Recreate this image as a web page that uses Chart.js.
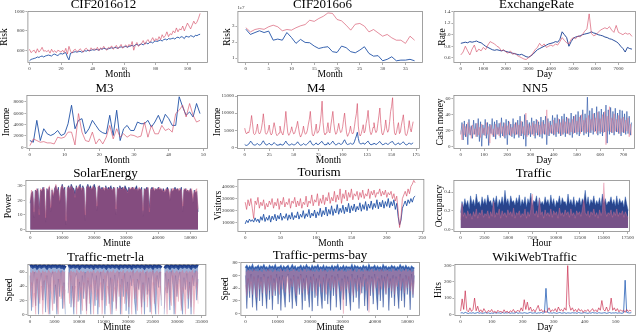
<!DOCTYPE html>
<html><head><meta charset="utf-8">
<script src="https://cdn.jsdelivr.net/npm/chart.js@4.4.0/dist/chart.umd.min.js"></script>
<style>
html,body{margin:0;padding:0;background:#fff;width:640px;height:332px;overflow:hidden;position:relative}
canvas{position:absolute}
</style></head><body>
<script>
// ---------------- DATA ----------------
// CIF2016o12 (Month 0..108)
const cif12Blue = [490,505,510,515,520,530,525,535,540,530,
540,545,550,545,540,555,560,550,545,560,
565,560,570,575,530,500,570,575,580,585,
580,585,590,580,585,595,590,600,595,600,
605,600,610,605,600,615,610,620,615,610,
615,620,625,620,630,625,620,630,635,630,
635,640,630,640,645,650,640,655,660,650,
660,665,655,670,675,665,680,685,675,690,
695,690,700,705,695,710,715,705,720,715,
720,725,715,730,735,725,740,735,720,745,
740,735,750,745,735,755,750,760,765];
const cif12Red = [610,575,590,600,570,615,580,600,630,590,
595,585,600,570,610,580,595,575,600,590,
580,600,575,620,560,640,590,570,600,610,
585,595,615,600,580,610,620,600,590,625,
605,615,600,630,595,625,610,640,615,600,
630,620,645,610,625,650,615,635,660,620,
640,655,630,660,640,690,600,650,680,640,
655,670,700,660,690,710,680,700,730,695,
720,700,740,710,760,730,750,790,740,770,
760,800,780,830,790,820,810,850,800,840,
880,850,820,860,900,870,890,930,980];
const cif12XTicks = [0,20,40,60,80,100];
const cif12YTicks = [600,800,1000];

// CIF2016o6 (Month 0..37), values in units of 1e7
const cif6RedE7 = [2.9,2.64,2.79,2.85,2.8,2.96,3.06,2.96,2.71,2.79,
2.75,2.9,3.02,3.1,3.37,3.3,3.48,3.62,3.83,3.8,
3.42,3.33,3.06,2.75,3.12,3.17,3.0,2.64,2.79,2.58,
2.37,2.48,2.27,2.12,2.12,1.92,2.37,2.12];
const cif6BlueE7 = [2.81,2.48,2.6,2.71,2.6,2.69,2.12,2.19,2.12,2.6,
2.29,1.92,2.17,1.98,1.96,1.75,1.6,1.67,1.71,1.4,
1.35,1.75,1.65,1.4,1.33,1.5,1.71,1.29,1.12,1.15,
0.83,0.92,1.08,0.83,0.87,0.87,0.92,0.83];
const cif6XTicks = [0,5,10,15,20,25,30,35];
const cif6YTicks = [1,2,3];

// ExchangeRate (Day 0..7600, every 100 days)
const exBlue = [0.85,0.86,0.87,0.86,0.88,0.87,0.88,0.89,0.87,0.86,
0.83,0.80,0.78,0.76,0.74,0.73,0.74,0.73,0.72,0.73,
0.71,0.70,0.69,0.68,0.67,0.66,0.65,0.66,0.64,0.62,
0.61,0.63,0.66,0.70,0.74,0.76,0.78,0.80,0.82,0.84,
0.85,0.86,0.88,0.87,0.92,1.05,1.00,0.95,0.80,0.88,
0.94,0.96,0.97,0.98,1.00,1.01,1.02,1.03,1.05,1.03,
1.02,1.00,0.99,0.98,0.96,0.95,0.93,0.92,0.90,0.88,
0.85,0.80,0.76,0.70,0.78,0.76,0.75];
const exRed = [0.65,0.70,0.80,0.72,0.65,0.75,0.82,0.70,0.75,0.72,
0.78,0.74,0.82,0.88,0.86,0.84,0.80,0.78,0.72,0.74,
0.70,0.68,0.72,0.66,0.68,0.64,0.62,0.60,0.58,0.57,
0.60,0.63,0.68,0.74,0.78,0.85,0.80,0.84,0.78,0.80,
0.82,0.80,0.84,0.82,0.88,0.95,0.90,0.86,0.84,0.92,
0.95,0.93,0.98,0.96,1.00,1.06,1.10,1.36,1.02,0.98,
1.00,1.04,1.08,1.10,1.12,1.10,1.14,1.08,1.04,1.16,
1.04,1.02,1.00,1.03,1.01,1.02,0.97];
const exXTicks = [0,1000,2000,3000,4000,5000,6000,7000];
const exYTicks = [0.6,0.8,1.0,1.2,1.4];

// M3 (Month 0..49)
const m3Blue = [1185,890,4740,1185,3260,2370,2070,2370,2960,2070,
2370,4150,7400,3260,4740,5040,2370,3260,4740,3850,
2960,2550,2370,5630,2070,6520,1185,3260,3850,2960,
2960,4440,4150,4150,4740,3560,4440,5630,4150,5800,
5040,3850,3850,8890,7110,5630,6220,5330,7700,5930];
const m3Red = [300,1480,1185,890,1000,770,770,590,1780,1600,
1780,2670,2670,415,5930,2670,1185,1000,2670,590,
1480,590,1780,3850,1480,3260,1780,2370,1780,2190,
2070,1780,1960,4440,1780,3850,2370,2370,3850,2960,
3260,2670,5930,6520,7400,5330,7700,5630,4440,4740];
const m3XTicks = [0,10,20,30,40,50];
const m3YTicks = [0,2000,4000,6000,8000];

// M4 (Month 0..172)
const m4Red = [5600,4300,3900,4500,4200,5200,7000,9300,6800,4100,3700,4000,
5200,6800,4500,3900,4300,5400,7200,9800,7000,4300,3800,4200,
5000,6500,4400,3600,4000,5600,7200,5800,4000,3400,3700,4200,
6200,4800,4100,3600,5000,7400,10500,7000,4200,3500,4000,4800,
6000,4600,3900,4100,5200,6200,7600,5600,3800,3000,3600,4500,
6200,4500,3800,4100,5000,6800,8200,10500,6500,3800,3300,3900,
5000,6800,4100,4400,5000,7000,9500,13500,7200,4400,3600,4200,
5500,7200,4600,4200,6500,8500,10500,7000,4800,3800,4200,5500,
7000,5200,4300,4600,6000,8200,10000,6800,4200,3200,3800,4600,
6200,4600,3900,4200,6000,8200,9800,12800,6200,3800,3300,4000,
5200,6600,4200,4800,7000,8500,10800,7000,4600,3700,4300,5800,
7200,5200,4300,4800,7000,9200,11500,7000,4200,3600,4400,5600,
8000,5400,4400,5000,7500,10500,12000,14500,7500,4200,3600,4400,
6000,7200,4000,4500,6500,8000,9500,6400,3800,3400,4000,5500,
7800,5500,4500,6000,7500];
const m4Blue = [800,600,550,700,900,1300,1800,1500,1000,700,650,700,
900,1100,800,650,700,1000,1500,1900,1400,900,700,750,
900,1200,850,700,750,1000,1400,1100,800,650,600,750,
1000,800,700,650,900,1400,1800,1300,900,700,650,800,
1000,850,700,750,900,1200,1600,1200,800,600,650,800,
1100,850,700,750,1000,1300,1700,1900,1300,800,650,750,
950,1300,850,800,950,1300,1600,1700,1200,850,700,800,
1000,1400,900,800,1100,1500,1800,1300,900,700,800,1000,
1300,1000,850,900,1200,1800,2200,1600,1000,800,900,1000,
1200,1000,900,1000,1600,2500,3300,4400,2600,1400,1000,1000,
1100,1300,900,1000,1300,1600,1800,1300,900,750,800,1000,
1200,1000,850,900,1200,1500,1700,1300,900,750,850,1000,
1300,1000,850,950,1200,1500,1600,1700,1200,850,750,900,
1100,1300,850,900,1100,1400,1600,1200,850,700,800,1000,
1300,1000,900,1100,1300];
const m4XTicks = [0,25,50,75,100,125,150,175];
const m4YTicks = [0,5000,10000,15000];

// NN5 (Day 0..735, every 5 days)
const nn5Blue = [15,30,8,32,12,28,2,34,14,26,
10,33,15,29,12,35,6,31,0,27,
14,34,10,30,1,28,16,35,12,31,
9,33,15,29,11,36,13,30,10,34,
2,32,14,28,12,35,10,30,15,33,
11,38,13,31,9,40,0,33,14,30,
12,36,15,32,10,34,14,31,12,37,
10,33,15,38,2,35,13,32,16,39,
14,36,12,40,16,34,13,38,15,41,
12,37,16,35,14,42,11,38,17,40,
15,44,13,39,18,46,14,41,16,62,
12,45,17,48,15,42,19,50,14,44,
16,47,13,43,18,52,4,46,15,49,
17,44,14,48,18,42,16,46,13,45,
17,41,15,44,16,38,14,30];
const nn5Red = [20,8,28,14,25,12,30,16,24,10,
27,15,22,12,29,14,24,11,28,16,
23,13,30,15,25,4,27,14,22,12,
28,15,24,13,30,16,25,12,29,14,
26,15,31,13,24,16,28,14,30,15,
27,13,32,16,25,14,42,12,28,16,
26,15,30,13,28,17,33,14,27,15,
31,16,28,15,46,14,30,17,27,16,
33,15,29,18,35,16,30,14,34,17,
31,16,36,15,30,18,34,16,38,17,
32,18,37,16,40,19,33,17,36,18,
39,17,34,20,41,18,36,16,43,19,
35,18,40,17,44,2,38,19,50,18,
36,17,41,19,34,18,39,16,35,18,
37,17,33,19,36,12,28,14];
const nn5XTicks = [0,100,200,300,400,500,600,700];
const nn5YTicks = [0,20,40,60];

// SolarEnergy (Minute 0..52400, every 400) - daily peak envelope
const solarBlue = [18,25,26,8,27,26,28,14,27,26,
29,27,5,28,26,29,12,27,22,28,
30,26,29,18,28,31,27,29,3,28,
30,27,31,29,28,25,30,27,29,31,
26,30,28,6,29,31,28,30,27,29,
31,28,13,29,30,27,29,28,26,30,
27,29,28,30,26,29,28,10,29,27,
30,28,29,27,30,28,26,29,27,28,
29,27,28,30,26,28,27,29,9,28,
27,29,28,15,27,29,28,26,28,27,
29,27,28,26,28,25,27,29,27,20,
28,26,27,29,27,28,26,27,29,12,
27,28,26,27,25,28,26,18,27,25,26,12];
const solarRed = [20,27,25,12,26,28,27,10,28,27,
28,29,8,27,28,30,15,28,24,27,
31,28,27,20,29,30,28,27,6,29,
29,28,30,28,27,22,29,28,30,29,
28,29,27,10,28,30,29,28,28,30,
29,27,16,30,29,28,27,29,28,29,
28,27,29,28,27,28,29,14,28,28,
29,27,28,29,28,27,25,28,28,29,
28,29,27,28,27,29,28,27,13,27,
28,27,29,12,28,27,29,28,27,28,
28,29,27,28,26,27,28,27,28,24,
27,28,28,27,28,27,28,28,27,16,
28,27,28,26,27,27,28,22,26,27,28,14];
const solarXTicks = [0,10000,20000,30000,40000,50000];
const solarYTicks = [0,10,20,30];

// Tourism (Month 0..240, every 2 months)
const tourRed = [27000,21000,29000,24000,30000,22000,13500,28000,25000,31000,
22000,27000,24000,29000,21000,26000,23000,28000,25000,30000,
22000,27000,24000,30000,21000,28000,25000,31000,23000,27000,
25000,30000,22000,28000,26000,31000,23000,28000,24000,30000,
22000,27000,25000,32000,23000,28000,26000,33000,24000,29000,
27000,34000,24000,30000,26000,33000,25000,31000,28000,35000,
26000,31000,28000,36000,27000,33000,29000,38000,26000,34000,
30000,37000,28000,35000,31000,38000,29000,34000,32000,36000,
29000,35000,31000,37000,30000,34000,32000,38000,30000,36000,
33000,37000,31000,35000,34000,38000,32000,36000,33000,37000,
31000,35000,33000,36000,30000,34000,28000,32000,20000,6000,
14000,30000,33000,36000,32000,38000,34000,40000,42000,45000,
43000];
const tourBlue = [9000,12000,10000,13000,11000,12500,10500,14000,11000,13000,
10000,15000,12000,17000,11000,14500,12000,16000,10500,15500,
12500,17000,11500,16000,13000,18000,12000,15500,13500,17500,
12000,16500,13000,18500,12500,16000,14000,19000,13000,17000,
14500,20000,13500,17500,15000,21000,14000,18000,15500,20500,
14000,19000,16000,22000,15000,20000,16500,23000,15500,21000,
17000,24000,16000,21500,18000,25000,17000,22000,18500,24500,
17500,23000,19000,26000,18000,24000,20000,25500,19000,23500,
20500,26500,19500,25000,21000,27500,20000,25500,22000,28000,
21000,26000,22500,29000,21500,27000,23000,28500,22000,27500,
23500,30000,22500,27500,24000,29000,21000,26000,15000,8000,
12000,22000,25000,28000,24000,29000,26000,30000,27000,31000,
32000];
const tourXTicks = [0,50,100,150,200,250];
const tourYTicks = [10000,20000,30000,40000];

// Traffic (Hour 0..17550, every 150 h) - upper envelope of occupancy
const trafBlue = [0.18,0.30,0.24,0.33,0.26,0.31,0.22,0.36,0.27,0.32,
0.25,0.38,0.28,0.30,0.24,0.35,0.27,0.33,0.26,0.37,
0.29,0.31,0.25,0.34,0.28,0.36,0.24,0.32,0.27,0.35,
0.26,0.42,0.28,0.33,0.25,0.36,0.29,0.31,0.26,0.34,
0.28,0.37,0.25,0.32,0.27,0.35,0.24,0.33,0.28,0.39,
0.26,0.31,0.29,0.36,0.25,0.34,0.27,0.30,0.26,0.35,
0.28,0.32,0.25,0.37,0.27,0.33,0.24,0.31,0.28,0.36,
0.26,0.34,0.29,0.30,0.25,0.38,0.27,0.32,0.26,0.35,
0.24,0.31,0.28,0.34,0.26,0.33,0.29,0.42,0.27,0.35,
0.25,0.32,0.28,0.36,0.26,0.31,0.27,0.34,0.25,0.38,
0.28,0.33,0.26,0.30,0.29,0.35,0.27,0.32,0.25,0.36,
0.26,0.33,0.28,0.31,0.24,0.35,0.27,0.20];
const trafRed = [0.10,0.28,0.14,0.18,0.12,0.20,0.15,0.17,0.11,0.19,
0.14,0.22,0.12,0.18,0.16,0.21,0.13,0.17,0.15,0.20,
0.12,0.19,0.14,0.30,0.13,0.18,0.16,0.22,0.12,0.20,
0.15,0.18,0.13,0.21,0.16,0.19,0.14,0.23,0.12,0.18,
0.16,0.20,0.13,0.17,0.15,0.22,0.12,0.19,0.14,0.21,
0.38,0.18,0.15,0.20,0.13,0.33,0.16,0.19,0.12,0.21,
0.15,0.18,0.14,0.22,0.13,0.20,0.16,0.19,0.12,0.23,
0.15,0.18,0.14,0.21,0.16,0.19,0.13,0.22,0.15,0.18,
0.12,0.20,0.16,0.19,0.14,0.21,0.32,0.18,0.15,0.20,
0.13,0.19,0.16,0.22,0.14,0.18,0.12,0.21,0.15,0.19,
0.50,0.20,0.14,0.18,0.16,0.21,0.13,0.19,0.15,0.22,
0.14,0.18,0.16,0.20,0.13,0.19,0.15,0.12];
const trafXTicks = [0,2500,5000,7500,10000,12500,15000,17500];
const trafYTicks = [0.0,0.2,0.4];

// Traffic-metr-la (Minute 0..34272, every 288) - upper / lower envelopes
const metrBlueTop = [68,69,67,68,69,66,68,69,67,68,
69,68,66,69,68,67,69,68,69,67,
68,69,67,68,66,69,null,68,69,67,
68,69,67,68,69,66,68,69,68,67,
69,68,67,69,68,66,69,68,67,69,
68,67,69,68,66,69,68,67,69,68,
67,69,68,66,69,68,67,69,68,67,
69,68,66,69,68,67,69,68,67,69,
68,66,69,68,67,69,68,66,69,68,
67,69,68,66,null,68,67,69,68,66,
69,68,67,69,68,66,69,68,67,69,
68,67,69,68,66,69,68,67,69,68];
const metrBlueLow = [55,5,40,60,12,50,0,45,58,20,
48,3,55,35,0,52,60,15,42,0,
50,25,62,8,45,0,null,30,66,10,
40,0,52,58,18,46,0,55,22,60,
5,48,35,0,58,42,12,55,0,38,
60,20,50,0,45,62,15,52,0,30,
56,8,44,60,0,50,25,58,5,46,
0,55,40,62,18,0,50,35,58,10,
45,0,60,28,52,3,48,62,20,0,
55,38,60,12,null,0,58,30,50,6,
62,42,0,55,25,48,60,15,0,52,
35,58,8,46,0,55,40,62,20,50];
const metrRedTop = [60,58,62,59,61,57,63,60,58,62,
59,61,57,63,60,58,62,59,61,57,
63,60,58,62,59,61,null,60,58,62,
59,61,57,63,60,58,62,59,61,57,
60,62,58,61,59,63,57,60,62,58,
61,59,63,57,60,62,58,61,59,63,
57,60,62,58,61,59,63,57,60,62,
58,61,59,63,57,60,62,58,61,59,
63,57,60,62,58,61,59,63,57,60,
62,58,61,59,null,57,60,62,58,61,
59,63,57,60,62,58,61,59,63,57,
60,62,58,61,59,63,57,60,62,58];
const metrRedLow = [20,45,10,30,0,52,25,15,40,0,
35,55,18,0,42,28,5,48,30,12,
0,50,22,40,8,35,null,45,15,55,
25,10,40,0,50,20,38,5,45,30,
0,52,15,42,28,0,48,20,35,10,
45,0,30,55,12,40,22,0,50,18,
38,5,48,25,42,0,55,15,35,28,
10,45,0,50,22,38,5,48,30,0,
42,18,55,10,35,25,0,45,15,52,
28,0,40,20,null,8,38,0,45,25,
12,55,30,0,42,18,50,5,38,28,
0,48,22,40,10,52,0,35,45,15];
const metrXTicks = [0,5000,10000,15000,20000,25000,30000,35000];
const metrYTicks = [0,20,40,60];

// Traffic-perms-bay (Minute 0..52122, every 438) - upper / lower envelopes
const pemsBlueTop = [72,75,70,74,71,76,69,73,72,75,
70,74,72,76,71,73,69,75,72,74,
71,76,70,73,72,75,69,74,71,73,
75,70,72,76,71,74,69,73,72,75,
70,74,71,76,72,73,69,75,71,74,
72,76,70,73,71,75,69,74,72,73,
71,75,70,74,72,76,69,73,71,75,
70,74,72,73,71,76,69,75,72,74,
71,73,70,75,72,74,69,76,71,73,
72,75,70,74,71,73,69,76,72,74,
70,73,71,75,72,74,69,73,71,76,
72,74,70,75,71,73,69,74,72,71];
const pemsBlueLow = [60,8,55,25,62,10,58,30,5,60,
20,57,12,62,35,8,58,22,60,6,
55,28,62,15,58,5,60,32,10,56,
62,18,55,8,60,25,12,58,30,62,
6,55,20,60,35,10,58,4,62,25,
55,12,60,30,8,57,20,62,15,55,
5,60,28,58,10,62,35,6,55,22,
60,12,58,30,5,62,18,55,25,60,
8,57,32,62,12,55,5,60,28,58,
15,62,35,6,55,20,60,10,58,30,
62,5,55,25,60,12,58,35,8,62,
20,55,10,60,30,58,6,62,25,60];
const pemsRedTop = [67,65,69,66,68,64,70,66,67,65,
68,66,64,69,67,65,70,66,68,64,
66,69,65,67,64,70,66,68,65,67,
69,64,67,66,70,65,68,66,64,69,
65,67,70,64,68,66,69,65,67,64,
68,66,64,70,65,67,69,66,64,68,
66,69,65,67,70,64,68,66,69,65,
67,64,68,66,70,65,67,69,64,66,
70,65,67,64,69,66,68,65,67,70,
64,68,66,69,65,67,70,64,68,66,
69,65,67,64,70,66,68,65,69,67,
64,68,66,70,65,67,69,64,66,68];
const pemsRedLow = [45,28,55,35,50,30,58,40,25,55,
38,50,32,58,42,30,55,36,60,28,
48,35,56,40,30,52,38,58,33,45,
55,30,50,42,58,36,28,54,40,60,
32,48,38,56,30,45,52,35,58,40,
28,55,42,50,33,58,38,30,55,45,
36,58,40,52,30,48,56,35,42,0,
55,38,50,32,58,40,28,54,44,35,
56,30,48,42,58,36,50,2,45,55,
33,52,40,58,30,46,38,55,42,32,
58,40,50,35,55,30,48,42,58,36,
45,55,32,50,40,58,35,48,30,52];
const pemsXTicks = [0,10000,20000,30000,40000,50000];
const pemsYTicks = [0,20,40,60,80];

// WikiWebTraffic (Day 0..550, every 5 days)
const wikiRed = [20,95,30,145,25,15,40,18,30,100,
22,50,15,28,12,35,18,10,25,15,
30,12,20,8,25,15,18,10,28,12,
20,8,22,15,30,12,18,25,15,40,
20,90,30,75,25,45,18,30,15,35,
55,20,30,15,25,10,22,40,15,28,
20,35,15,45,22,30,18,40,25,300,
60,25,40,18,30,15,35,20,28,12,
25,18,30,15,22,35,18,28,15,40,
25,85,30,20,45,18,30,100,25,40,
20,35,15,28,18,25,12,30,18,25,
20];
const wikiBlue = [8,10,6,12,8,5,9,7,10,6,
8,11,7,9,6,8,10,7,9,5,
8,6,10,7,9,8,6,11,7,9,
8,10,6,9,7,8,11,6,9,8,
7,10,8,6,9,12,7,8,10,6,
9,8,11,7,10,160,12,8,9,7,
10,8,6,9,11,7,8,10,6,9,
8,7,10,8,9,6,11,8,7,9,
10,8,6,9,7,11,8,9,6,10,
8,7,9,10,6,8,11,7,9,8,
10,7,9,8,6,10,210,12,9,8,
10];
const wikiXTicks = [0,100,200,300,400,500];
const wikiYTicks = [0,100,200,300];

// ---------------- RENDERING ----------------
const SERIF = "'Liberation Serif','Times New Roman',serif";
const RED = 'rgba(212,72,98,0.62)';
const BLUE = 'rgba(28,78,165,0.88)';
function pts(vals, step) { return vals.map((v, i) => ({ x: i * step, y: v })); }
const intFmt = v => String(Math.round(v));
const fix1 = v => v.toFixed(1);

const framePlugin = {
  id: 'frame',
  afterDraw(chart) {
    const a = chart.chartArea, c = chart.ctx;
    c.save();
    c.strokeStyle = '#8a8a8a'; c.lineWidth = 0.8;
    c.strokeRect(a.left + 0.5, a.top + 0.5, a.right - a.left - 1, a.bottom - a.top - 1);
    const note = chart.options.plugins.frame && chart.options.plugins.frame.note;
    if (note) {
      c.fillStyle = '#333';
      c.font = '5px ' + SERIF;
      c.textBaseline = 'bottom';
      c.fillText(note, a.left, a.top - 1);
    }
    c.restore();
  }
};

function line(vals, step, color, width) {
  return { data: pts(vals, step), borderColor: color, borderWidth: width || 1, fill: false, pointRadius: 0 };
}
function area(vals, step, color, fillColor, target, width) {
  return { data: pts(vals, step), borderColor: color, backgroundColor: fillColor, borderWidth: width || 0.6, fill: target, pointRadius: 0 };
}

function panel(cfg) {
  const [l, t, r, b] = cfg.rect;
  const TH = 13, XH = 17, YLH = 9 * 1.2;
  const YW = cfg.yoff + YLH / 2;
  const left = Math.round(l - YW), top = t - TH;
  const W = r - left + 2, H = b - top + XH;
  const cv = document.createElement('canvas');
  cv.width = W; cv.height = H;
  cv.style.left = left + 'px'; cv.style.top = top + 'px';
  cv.style.width = W + 'px'; cv.style.height = H + 'px';
  document.body.appendChild(cv);
  const tickFont = { family: SERIF, size: 5 };
  const axTitleFont = { family: SERIF, size: 9.5, lineHeight: 1.2 };
  new Chart(cv.getContext('2d'), {
    type: 'line',
    data: { datasets: cfg.datasets },
    options: {
      responsive: false, animation: false, devicePixelRatio: 1,
      spanGaps: false,
      layout: { padding: { left: 0, right: 2, top: 0, bottom: 0 } },
      plugins: {
        legend: { display: false }, tooltip: { enabled: false },
        title: { display: true, text: cfg.title, color: '#000',
          font: { family: SERIF, size: 13, weight: 'normal', lineHeight: 1 }, padding: { top: 0, bottom: 0 } },
        frame: { note: cfg.note || '' }
      },
      elements: { point: { radius: 0 }, line: { tension: 0 } },
      scales: {
        x: {
          type: 'linear', min: cfg.x[0], max: cfg.x[1],
          afterFit: s => { s.height = XH; },
          afterBuildTicks: s => { s.ticks = cfg.xt.map(v => ({ value: v })); },
          ticks: { autoSkip: false, maxRotation: 0, minRotation: 0,
            font: tickFont, color: '#333', padding: 1, callback: cfg.xfmt || intFmt },
          grid: { display: true, drawOnChartArea: false, drawTicks: true, tickLength: 2, color: '#777', lineWidth: 0.6 },
          border: { display: false },
          title: { display: true, text: cfg.xlabel, color: '#000', font: axTitleFont, padding: { top: 0, bottom: 0 } }
        },
        y: {
          type: 'linear', min: cfg.y[0], max: cfg.y[1],
          afterFit: s => { s.width = YW; },
          afterBuildTicks: s => { s.ticks = cfg.yt.map(v => ({ value: v })); },
          ticks: { autoSkip: false,
            font: tickFont, color: '#333', padding: 1, callback: cfg.yfmt || intFmt },
          grid: { display: true, drawOnChartArea: false, drawTicks: true, tickLength: 2, color: '#777', lineWidth: 0.6 },
          border: { display: false },
          title: { display: true, text: cfg.ylabel, color: '#000', font: axTitleFont, padding: { top: 0, bottom: 0 } }
        }
      }
    },
    plugins: [framePlugin]
  });
}

// Row 1
panel({ title: 'CIF2016o12', rect: [27, 11, 208, 63], yoff: 23, xlabel: 'Month', ylabel: 'Risk',
  x: [-1.3, 113], y: [468, 1005], xt: cif12XTicks, yt: cif12YTicks,
  datasets: [line(cif12Red, 1, RED), line(cif12Blue, 1, BLUE)] });
panel({ title: 'CIF2016o6', rect: [237, 11, 423, 63], yoff: 10, xlabel: 'Month', ylabel: 'Risk',
  x: [-1.85, 38.85], y: [0.69, 3.95], xt: cif6XTicks, yt: cif6YTicks, note: '1e7',
  datasets: [line(cif6RedE7, 1, RED), line(cif6BlueE7, 1, BLUE)] });
panel({ title: 'ExchangeRate', rect: [453, 11, 636, 63], yoff: 11, xlabel: 'Day', ylabel: 'Rate',
  x: [-330, 7780], y: [0.51, 1.41], xt: exXTicks, yt: exYTicks, yfmt: fix1,
  datasets: [line(exRed, 100, RED), line(exBlue, 100, 'rgba(20,60,145,0.9)')] });
// Row 2
panel({ title: 'M3', rect: [26, 95, 208, 149], yoff: 20, xlabel: 'Month', ylabel: 'Income',
  x: [-1, 51.3], y: [-300, 9200], xt: m3XTicks, yt: m3YTicks,
  datasets: [line(m3Red, 1, RED), line(m3Blue, 1, BLUE)] });
panel({ title: 'M4', rect: [237, 95, 420, 149], yoff: 19.5, xlabel: 'Month', ylabel: 'Income',
  x: [-8, 179], y: [-500, 15300], xt: m4XTicks, yt: m4YTicks,
  datasets: [line(m4Red, 1, RED), line(m4Blue, 1, BLUE)] });
panel({ title: 'NN5', rect: [453, 95, 635, 149], yoff: 13, xlabel: 'Day', ylabel: 'Cash money',
  x: [-32, 750], y: [-3.4, 64.7], xt: nn5XTicks, yt: nn5YTicks,
  datasets: [line(nn5Red, 5, 'rgba(222,110,135,0.55)', 0.8), line(nn5Blue, 5, 'rgba(25,70,160,0.7)', 0.8)] });
// Row 3
panel({ title: 'SolarEnergy', rect: [25, 180, 208, 232], yoff: 17, xlabel: 'Minute', ylabel: 'Power',
  x: [-1500, 55500], y: [-1.8, 33.9], xt: solarXTicks, yt: solarYTicks,
  datasets: [area(solarRed, 400, 'rgba(215,110,140,0.6)', 'rgba(205,90,120,0.55)', 'origin'),
             area(solarBlue, 400, 'rgba(20,45,125,0.9)', 'rgba(25,45,125,0.92)', 'origin')] });
panel({ title: 'Tourism', rect: [237, 179, 425, 232], yoff: 19, xlabel: 'Month', ylabel: 'Visitors',
  x: [-11, 253], y: [2300, 46200], xt: tourXTicks, yt: tourYTicks,
  datasets: [line(tourRed, 2, RED), line(tourBlue, 2, BLUE)] });
panel({ title: 'Traffic', rect: [453, 180, 633, 232], yoff: 14, xlabel: 'Hour', ylabel: 'Occupancy',
  x: [-750, 17740], y: [-0.028, 0.53], xt: trafXTicks, yt: trafYTicks, yfmt: fix1,
  datasets: [area(trafRed, 150, 'rgba(225,120,150,0.6)', 'rgba(215,100,130,0.45)', { value: 0.015 }),
             area(trafBlue, 150, 'rgba(40,90,175,0.75)', 'rgba(18,48,128,0.9)', { value: 0.015 })] });
// Row 4
panel({ title: 'Traffic-metr-la', rect: [27, 264, 207, 316], yoff: 18, xlabel: 'Minute', ylabel: 'Speed',
  x: [-540, 35950], y: [-2.4, 71.4], xt: metrXTicks, yt: metrYTicks,
  datasets: [area(metrRedLow, 288, 'rgba(215,110,140,0.5)', 'rgba(215,110,140,0.45)', 1, 0.5),
             line(metrRedTop, 288, 'rgba(215,110,140,0.4)', 0.5),
             area(metrBlueLow, 288, 'rgba(40,80,160,0.6)', 'rgba(60,100,175,0.5)', 3, 0.5),
             line(metrBlueTop, 288, 'rgba(15,45,125,0.95)', 3)] });
panel({ title: 'Traffic-perms-bay', rect: [240, 262, 420, 316], yoff: 15, xlabel: 'Minute', ylabel: 'Speed',
  x: [-1540, 53850], y: [-3.6, 81], xt: pemsXTicks, yt: pemsYTicks,
  datasets: [area(pemsRedLow, 438, 'rgba(215,110,140,0.5)', 'rgba(215,110,140,0.4)', 1, 0.5),
             line(pemsRedTop, 438, 'rgba(215,110,140,0.4)', 0.5),
             area(pemsBlueLow, 438, 'rgba(20,55,140,0.75)', 'rgba(30,70,155,0.7)', 3, 0.5),
             line(pemsBlueTop, 438, 'rgba(40,90,175,0.85)', 1.5)] });
panel({ title: 'WikiWebTraffic', rect: [454, 264, 636, 316], yoff: 16, xlabel: 'Day', ylabel: 'Hits',
  x: [-20, 565], y: [-10.4, 310], xt: wikiXTicks, yt: wikiYTicks,
  datasets: [line(wikiRed, 5, 'rgba(200,40,75,0.75)', 0.9), line(wikiBlue, 5, 'rgba(30,90,180,0.85)', 0.9)] });
</script>
</body></html>
